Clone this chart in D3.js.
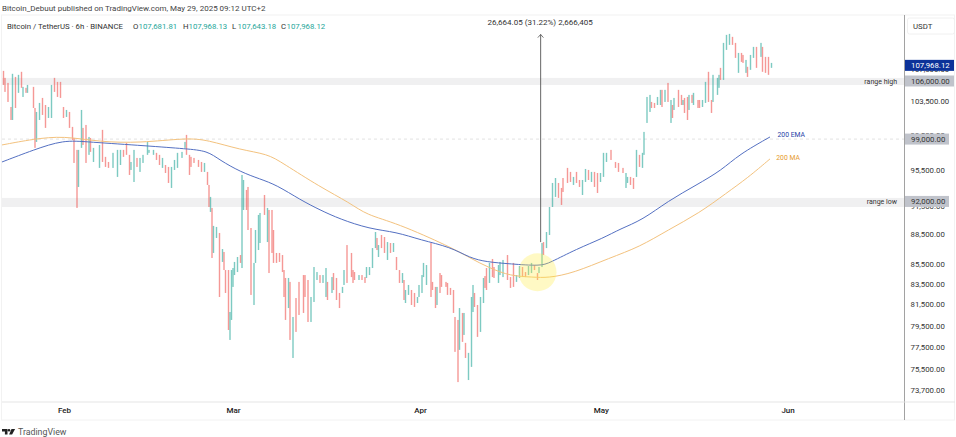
<!DOCTYPE html>
<html><head><meta charset="utf-8">
<script src="https://cdn.jsdelivr.net/npm/d3@7"></script>
<style>html,body{margin:0;padding:0;background:#fff;overflow:hidden}svg{display:block}text{font-family:Roboto,"Open Sans",sans-serif}</style>
</head><body><div id="c"></div>
<script>
// 6-hour bar slots counted from the left edge of the chart
const barSlots=[
1,2,4,6,7,9,11,13,14,16,
17,21,22,23,25,27,29,31,33,35,
37,39,41,43,45,47,48,50,51,53,
54,56,58,59,61,65,67,69,71,74,
77,79,81,83,85,86,88,90,92,94,
97,98,101,103,105,107,109,111,113,115,
117,120,122,123,125,126,128,131,133,135,
137,138,139,140,141,143,145,147,
148,149,151,152,153,154,155,157,159,160,
161,163,164,166,168,169,171,172,175,177,
178,180,181,183,185,187,188,189,191,192,
194,196,198,201,202,204,206,208,210,212,
214,216,217,220,221,223,225,227,228,230,
233,234,235,238,240,242,243,245,247,249,
250,251,253,255,257,259,261,263,265,267,
268,269,271,273,275,277,278,280,281,283,
286,287,289,290,292,293,296,297,299,301,
302,304,305,307,308,309,311,313,314,315,
317,319,321,322,323,325,327,328,331,332,
334,337,339,341,343,345,347,349,351,353,
355,357,358,360,361,363,365,367,369,371,
373,374,377,379,381,383,385,387,389,391,
393,395,397,399,401,403,406,409,411,414,
416,417,419,421,423,425,427,428,430,432,
433,435,437,439,440,442,444,446,447,448,
451,453,454,455,457,458,460,461,464,465,
467,469,471,473,474,477,478,479,481,483,
485,487,489,491,493,494,496,497,499,501,
503,506,507,509,511,513];
const barHighs=[
107270,106390,105760,102810,106900,106510,106770,107150,105270,105150,
105510,105270,102690,102210,103300,103910,103050,102810,105510,106390,
105890,105890,102810,102450,102210,100430,99130,97750,97750,102450,
100310,100660,99250,99130,97980,98320,100080,96950,96370,97410,
97750,97750,97750,98550,97180,96370,97750,96830,96830,97180,
98670,97750,97750,97410,97180,96830,96030,95810,95810,96600,
97410,97520,98670,99490,97180,96950,96830,96600,96370,96260,
95250,93800,92490,91300,89390,89280,88650,86990,
86690,84870,84870,80780,84870,85070,85680,86180,86380,94910,
94350,93250,93580,89170,85580,88960,90550,90760,92700,91300,
91080,91080,88960,86590,86590,86380,84870,84080,84080,83690,
80310,82120,83690,84370,84370,83880,82220,85170,84670,84370,
84370,85070,83690,84170,84570,84080,82610,83200,84870,87400,
86590,84870,84670,84370,84370,84170,85170,85170,87090,88750,
88130,87400,88440,88230,87710,87610,87610,86180,84870,84570,
83880,82900,83390,82900,82610,82220,83390,84370,85580,85370,
87610,83690,83200,83200,84570,84370,83690,83590,83100,82900,
80310,80030,81160,80690,80690,77900,76990,82220,83390,82610,
81450,82220,84080,84270,85070,85580,85980,85170,85370,85680,
85880,86380,84170,85580,84370,85270,85170,84670,85270,85580,
85370,84570,85170,87610,87710,88750,91400,94020,94570,94020,
93470,94570,95700,95250,94690,95250,94350,94350,95580,95470,
95250,95250,95130,95130,97410,97410,97750,96370,96260,95700,
95130,94690,94690,94570,97750,97180,97410,99840,104030,104280,
103420,103300,104030,104900,104900,104900,105760,103660,103050,103910,
104900,104280,103660,103910,104030,104280,104280,104530,103660,103660,
103660,105890,107150,103660,106770,106390,106770,107650,110860,111910,
112040,111650,110860,109560,109560,109300,108660,107780,109300,110340,
110340,110860,110340,109050,109050,108280];
const barLows=[
105510,104650,103420,101250,101250,102690,104530,105150,104030,104530,
104530,102690,97980,98670,101250,101850,100310,101490,101490,104650,
104030,103910,101490,101610,100310,98900,96260,91300,93580,97980,
98320,96260,97180,97520,96370,95700,96370,95810,95700,95700,
94690,96030,96950,97180,94910,95470,94130,95810,95250,96260,
97180,97410,97180,96600,96030,95700,95130,94020,93470,95470,
95700,96830,97980,97180,94910,95810,96260,95810,95250,95250,
93800,91400,90870,86080,86590,88130,82220,85680,
84870,82610,79090,78170,80030,83200,84370,84670,85580,85070,
91080,91080,88960,82420,81450,85580,86890,87610,90550,87710,
84570,86590,85580,85580,85680,84670,82220,80030,81160,78170,
76530,78910,80500,80690,82220,79840,79840,81740,83880,83590,
83590,82220,81930,82610,82900,81930,81160,82610,83390,83590,
84170,83590,83880,83880,83880,83590,84080,84370,85070,87090,
86890,86180,87090,86590,85880,86590,86690,84870,83590,83590,
81930,81640,82420,81450,81260,81640,82220,82610,84170,83390,
82220,82900,81160,81450,82610,83200,83200,82420,82420,80690,
77080,74390,77260,77990,78630,76530,74570,75730,80780,81260,
78450,78910,81640,83100,82900,83590,84170,84080,83590,84370,
84170,83880,83100,83200,83690,84080,84170,84170,84370,84570,
84870,83880,84570,85170,86380,87090,88440,91400,92490,92380,
91620,93030,94020,94130,93800,94020,93580,92700,94130,94350,
94130,93580,92920,94130,94690,96370,96600,95700,95250,95130,
93470,94020,93800,93360,94690,95810,95700,97180,100900,102210,
102690,102690,103050,103050,102810,103420,103420,100900,101490,102450,
102810,103050,103050,102090,101250,102450,103300,103050,102690,102690,
102810,103300,103420,102090,103420,104280,105150,106135,106135,109950,
110600,110600,108920,107020,108410,108280,107020,106510,107400,108920,
107650,109050,107150,107020,106770,107650];
const barRising=[
0,0,0,0,1,0,1,0,1,0,
1,0,0,1,1,0,0,1,1,0,
0,0,0,1,0,0,0,0,1,1,
0,0,1,0,1,1,0,0,0,1,
1,1,0,0,0,1,1,0,1,1,
1,1,1,0,0,1,0,0,1,1,
1,1,1,0,0,0,0,0,0,1,
0,0,1,0,1,1,0,1,
0,0,0,1,1,1,1,1,0,1,
1,0,0,0,1,1,1,1,0,1,
0,0,0,0,0,0,0,0,1,0,
1,0,0,0,0,0,1,1,1,0,
1,1,0,1,0,0,0,1,1,0,
0,0,0,1,0,0,1,1,1,1,
0,1,0,0,1,0,1,0,0,1,
0,1,1,0,0,1,1,1,1,1,
0,0,0,1,0,0,0,0,0,0,
0,0,1,0,1,0,1,1,1,0,
0,1,1,0,0,1,0,0,1,1,
1,0,0,0,1,1,0,0,1,1,
0,0,1,1,0,1,1,1,1,0,
0,0,0,0,1,0,0,1,1,0,
1,0,0,1,1,1,0,0,0,0,
1,1,0,0,1,0,1,1,1,1,
0,0,1,1,0,1,0,1,0,1,
0,0,1,0,0,1,0,1,0,0,
1,1,0,0,1,1,1,0,1,1,
1,0,0,1,0,0,1,0,1,1,
0,1,0,0,0,1];

const emaSlots=[0,21,41,57,97,123,137,145,159,172,183,199,212,225,245,263,279,299,312,323,339,359,365,383,401,412,427,444,463,480,491,512];
const emaValues=[96370,97750,98900,98670,98210,97870,97640,96600,95250,94460,93800,92160,91080,90130,89070,88750,87920,87200,86080,85680,85480,85270,85580,86990,88130,89070,90020,92050,93800,95470,97180,99250];
const maSlots=[0,21,41,65,92,123,137,159,177,187,212,232,243,263,299,312,325,339,354,364,381,405,425,444,465,483,497,512];
const maValues=[98320,99010,99370,98670,98550,99130,98900,97750,97290,96260,93580,91840,90550,89700,87200,86080,85070,84270,84170,84080,84570,86080,87200,88960,90760,92920,94570,96720];

const priceTicks=[73700,75500,77500,79500,81500,83500,85500,88500,91500,95500,99500,103500,107500];
const monthNames=["Feb","Mar","Apr","May","Jun"];
const monthSlots=[41.3,154,278.7,399.3,523.7];
const rangeHigh=[105510,106390];
const rangeLow=[91400,92380];
const levelLabels=[["range high",106000],["range low",92000]];
const markerPrices=[[106000,49],[99000,44],[92000,44]];
const lastPrice=107968.12;
const measureSlot=359.1, measureFrom=87700, measureTo=111968;
const measureLabel="26,664.05 (31.22%) 2,666,405";
const circleSlot=357, circlePrice=84650;
const legendTitle="Bitcoin / TetherUS · 6h · BINANCE";
const ohlc=[["O","107,681.81"],["H","107,968.13"],["L","107,643.18"],["C","107,968.12"]];

const W=956,H=437,plotR=904.5,plotT=15,axisB=402,footB=420;
const svg=d3.select("#c").append("svg").attr("width",W).attr("height",H).attr("viewBox",`0 0 ${W} ${H}`);
const x=d3.scaleLinear().domain([0,513]).range([2,771.5]);
const y=d3.scaleLog().domain([73700,106000]).range([390,81]);

// frame
svg.append("rect").attr("x",1.5).attr("y",plotT).attr("width",W-3).attr("height",footB-plotT).attr("fill","none").attr("stroke","#f2f2f2");

// range bands
[rangeHigh,rangeLow].forEach(r=>svg.append("rect").attr("x",2).attr("width",plotR-2).attr("y",y(r[1])).attr("height",y(r[0])-y(r[1])).attr("fill","#f0f0f1"));

// dashed level
svg.append("line").attr("x1",2).attr("x2",plotR).attr("y1",y(99000)).attr("y2",y(99000)).attr("stroke","#dcdcdc").attr("stroke-width",.8).attr("stroke-dasharray","3 3");

// measure arrow
const ax=x(measureSlot);
svg.append("line").attr("x1",ax).attr("x2",ax).attr("y1",y(measureFrom)).attr("y2",y(measureTo)).attr("stroke","#555").attr("stroke-width",.9);
svg.append("path").attr("d",d3.line()([[ax-2.8,y(measureTo)+3.2],[ax,y(measureTo)],[ax+2.8,y(measureTo)+3.2]])).attr("fill","none").attr("stroke","#555").attr("stroke-width",.8);
svg.append("text").attr("x",ax-0.5).attr("y",25).attr("text-anchor","middle").attr("font-size",8).attr("fill","#333").text(measureLabel);

// price bars
const bars=barSlots.map((s,i)=>({s,h:barHighs[i],l:barLows[i],u:barRising[i]}));
svg.append("g").selectAll("rect").data(bars).join("rect")
 .attr("x",d=>x(d.s)-.7).attr("width",1.4)
 .attr("y",d=>y(d.h)).attr("height",d=>y(d.l)-y(d.h))
 .attr("fill",d=>d.u?"#26a69a":"#ef5350").attr("opacity",.6);

// moving averages
const line=d3.line().x(d=>x(d[0])).y(d=>y(d[1])).curve(d3.curveBasis);
const ema=emaSlots.map((s,i)=>[s,emaValues[i]]), ma=maSlots.map((s,i)=>[s,maValues[i]]);
svg.append("path").attr("d",line(ma)).attr("fill","none").attr("stroke","#f3c27e").attr("stroke-width",1);
svg.append("path").attr("d",line(ema)).attr("fill","none").attr("stroke","#5470c2").attr("stroke-width",1);
svg.append("text").attr("x",x(512)+7.5).attr("y",y(99250)+0.5).attr("font-size",6.8).attr("fill","#1f3fa6").text("200 EMA");
svg.append("text").attr("x",x(512)+6.3).attr("y",y(96720)+1).attr("font-size",6.8).attr("fill","#e69a2e").text("200 MA");

// highlighted crossing
svg.append("circle").attr("cx",x(circleSlot)).attr("cy",y(circlePrice)).attr("r",19).attr("fill","#ffeb3b").attr("opacity",.3);

// range labels
levelLabels.forEach(([t,p])=>svg.append("text").attr("x",897).attr("y",y(p)+2.6).attr("text-anchor","end").attr("font-size",7).attr("fill","#333").text(t));

// price axis
const axR=d3.axisRight(y).tickValues(priceTicks).tickSize(0).tickPadding(0).tickFormat(d3.format(",.2f"));
const gR=svg.append("g").attr("transform",`translate(${plotR+6},0)`).call(axR);
gR.select(".domain").remove();
gR.selectAll("text").attr("font-size",7.8).attr("fill","#333").style("font-family","Roboto,sans-serif");
svg.append("line").attr("x1",plotR).attr("x2",plotR).attr("y1",plotT).attr("y2",footB).attr("stroke","#8a8a8a").attr("stroke-width",.8);

// price markers
markerPrices.forEach(([p,w])=>{
  svg.append("rect").attr("x",plotR+.5).attr("y",y(p)-5.5).attr("width",w).attr("height",11).attr("fill","#c0c3cb");
  svg.append("text").attr("x",plotR+6.5).attr("y",y(p)+2.8).attr("font-size",7.8).attr("fill","#333").text(d3.format(",.2f")(p));
});
svg.append("rect").attr("x",plotR+.5).attr("y",y(lastPrice)-5.5).attr("width",49).attr("height",11).attr("fill","#0c3299");
svg.append("text").attr("x",plotR+6.5).attr("y",y(lastPrice)+2.8).attr("font-size",7.8).attr("fill","#fff").text(d3.format(",.2f")(lastPrice));

// USDT button
svg.append("rect").attr("x",907.5).attr("y",18).attr("width",47).attr("height",16).attr("rx",2).attr("fill","#fff").attr("stroke","#f0f0f0");
svg.append("text").attr("x",913).attr("y",29).attr("font-size",7.8).attr("fill","#333").text("USDT");

// time axis
const axB=d3.axisBottom(x).tickValues(monthSlots).tickSize(0).tickPadding(0).tickFormat((d,i)=>monthNames[i]);
const gB=svg.append("g").attr("transform",`translate(0,${axisB+5})`).call(axB);
gB.select(".domain").remove();
gB.selectAll("text").attr("font-size",8).attr("fill","#222").attr("font-weight",500).style("font-family","Roboto,sans-serif");
svg.append("line").attr("x1",2).attr("x2",W-1).attr("y1",axisB).attr("y2",axisB).attr("stroke","#e2e2e2").attr("stroke-width",.9);

// headers
svg.append("text").attr("x",2).attr("y",10.5).attr("font-size",8).attr("fill","#444").text("Bitcoin_Debuut published on TradingView.com, May 29, 2025 09:12 UTC+2");
svg.append("text").attr("x",7).attr("y",28.5).attr("font-size",7.8).attr("fill","#333").text(legendTitle);
const legendX=[133,183,232,281];
ohlc.forEach(([k,v],i)=>{
  svg.append("text").attr("x",legendX[i]).attr("y",28.5).attr("font-size",7.8).attr("fill","#333").text(k);
  svg.append("text").attr("x",legendX[i]+5.5).attr("y",28.5).attr("font-size",7.8).attr("fill","#26a69a").text(v);
});

// footer logo
const logo=svg.append("g").attr("fill","#222");
logo.append("path").attr("d","M2 429h5.5v5.6h-2.6v-3.2h-2.9z");
logo.append("circle").attr("cx",9).attr("cy",430.3).attr("r",1.3);
logo.append("path").attr("d","M11.5 429h3.6l-3 5.6h-3z");
svg.append("text").attr("x",18).attr("y",435).attr("font-size",8.8).attr("fill","#555").text("TradingView");
</script></body></html>
